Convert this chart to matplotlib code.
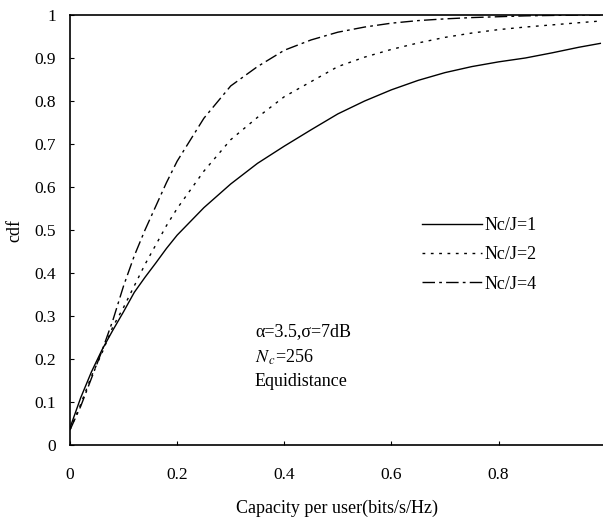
import matplotlib
matplotlib.use("Agg")
import matplotlib.pyplot as plt

# Capacity per user (bits/s/Hz) sample points
capacity = [0.0, 0.02, 0.04, 0.06, 0.08, 0.10, 0.12, 0.14, 0.16, 0.18, 0.20,
            0.25, 0.30, 0.35, 0.40, 0.45, 0.50, 0.55, 0.60, 0.65, 0.70,
            0.75, 0.80, 0.85, 0.90, 0.95, 0.99]

# Empirical cdf for each cluster ratio
cdf_nc1 = [0.040, 0.110, 0.170, 0.222, 0.267, 0.310, 0.355, 0.390, 0.423, 0.457, 0.488,
           0.552, 0.607, 0.655, 0.695, 0.733, 0.770, 0.800, 0.826, 0.848, 0.866,
           0.880, 0.891, 0.900, 0.912, 0.925, 0.934]
cdf_nc2 = [0.035, 0.095, 0.160, 0.215, 0.275, 0.320, 0.370, 0.420, 0.465, 0.510, 0.550,
           0.637, 0.710, 0.762, 0.810, 0.845, 0.880, 0.902, 0.920, 0.935, 0.948,
           0.958, 0.966, 0.972, 0.977, 0.982, 0.986]
cdf_nc4 = [0.035, 0.090, 0.155, 0.220, 0.290, 0.370, 0.440, 0.500, 0.555, 0.610, 0.660,
           0.760, 0.835, 0.880, 0.918, 0.942, 0.960, 0.972, 0.981, 0.987, 0.991,
           0.994, 0.996, 0.998, 0.999, 1.000, 1.000]

labels = ["Nc/J=1", "Nc/J=2", "Nc/J=4"]
x_ticks = [0, 0.2, 0.4, 0.6, 0.8]
x_tick_labels = ["0", "0.2", "0.4", "0.6", "0.8"]
y_ticks = [0, 0.1, 0.2, 0.3, 0.4, 0.5, 0.6, 0.7, 0.8, 0.9, 1.0]
y_tick_labels = ["0", "0.1", "0.2", "0.3", "0.4", "0.5", "0.6", "0.7", "0.8", "0.9", "1"]

plt.rcParams["font.family"] = ["Liberation Serif", "DejaVu Serif"]
plt.rcParams["mathtext.fontset"] = "stix"

fig = plt.figure(figsize=(6.03, 5.17), dpi=100)
ax = fig.add_axes([70 / 603, 1 - 445 / 517, 533 / 603, 430 / 517])

lw = 1.0
ax.plot(capacity, cdf_nc1, color="black", lw=lw, linestyle="-", label=labels[0])
ax.plot(capacity, cdf_nc2, color="black", lw=lw, linestyle=(0, (2, 4)), label=labels[1])
ax.plot(capacity, cdf_nc4, color="black", lw=lw, linestyle=(0, (9, 3, 2, 3)), label=labels[2])

ax.set_xlim(0, 0.995)
ax.set_ylim(0, 1)
ax.set_xticks(x_ticks)
ax.set_xticklabels(x_tick_labels)
ax.set_yticks(y_ticks)
ax.set_yticklabels(y_tick_labels)
ax.tick_params(axis="both", direction="in", length=3, width=0.8, labelsize=12.5)
ax.tick_params(axis="x", pad=16)
ax.tick_params(axis="y", pad=10)

for side in ("left", "bottom", "top"):
    ax.spines[side].set_linewidth(1.2)
ax.spines["right"].set_visible(False)

ax.set_xlabel("Capacity per user(bits/s/Hz)", fontsize=13, labelpad=12)
ax.set_ylabel("cdf", fontsize=13)
ax.yaxis.set_label_coords(-0.088, 0.5)

ax.legend(loc="upper left", bbox_to_anchor=(422 / 603, 1 - 217 / 517),
          bbox_transform=fig.transFigure, frameon=False, fontsize=13,
          handlelength=3.3, handletextpad=0.15, labelspacing=0.68,
          borderpad=0, borderaxespad=0)

ax.text(0.347, (445 - 332) / 430, "α=3.5,σ=7dB", transform=ax.transAxes,
        fontsize=13, va="center", ha="left")
ax.text(0.347, (445 - 357) / 430, r"$N_{\,c}$=256", transform=ax.transAxes,
        fontsize=13, va="center", ha="left")
ax.text(0.347, (445 - 382) / 430, "Equidistance", transform=ax.transAxes,
        fontsize=13, va="center", ha="left")

fig.savefig("out.png", dpi=100)
